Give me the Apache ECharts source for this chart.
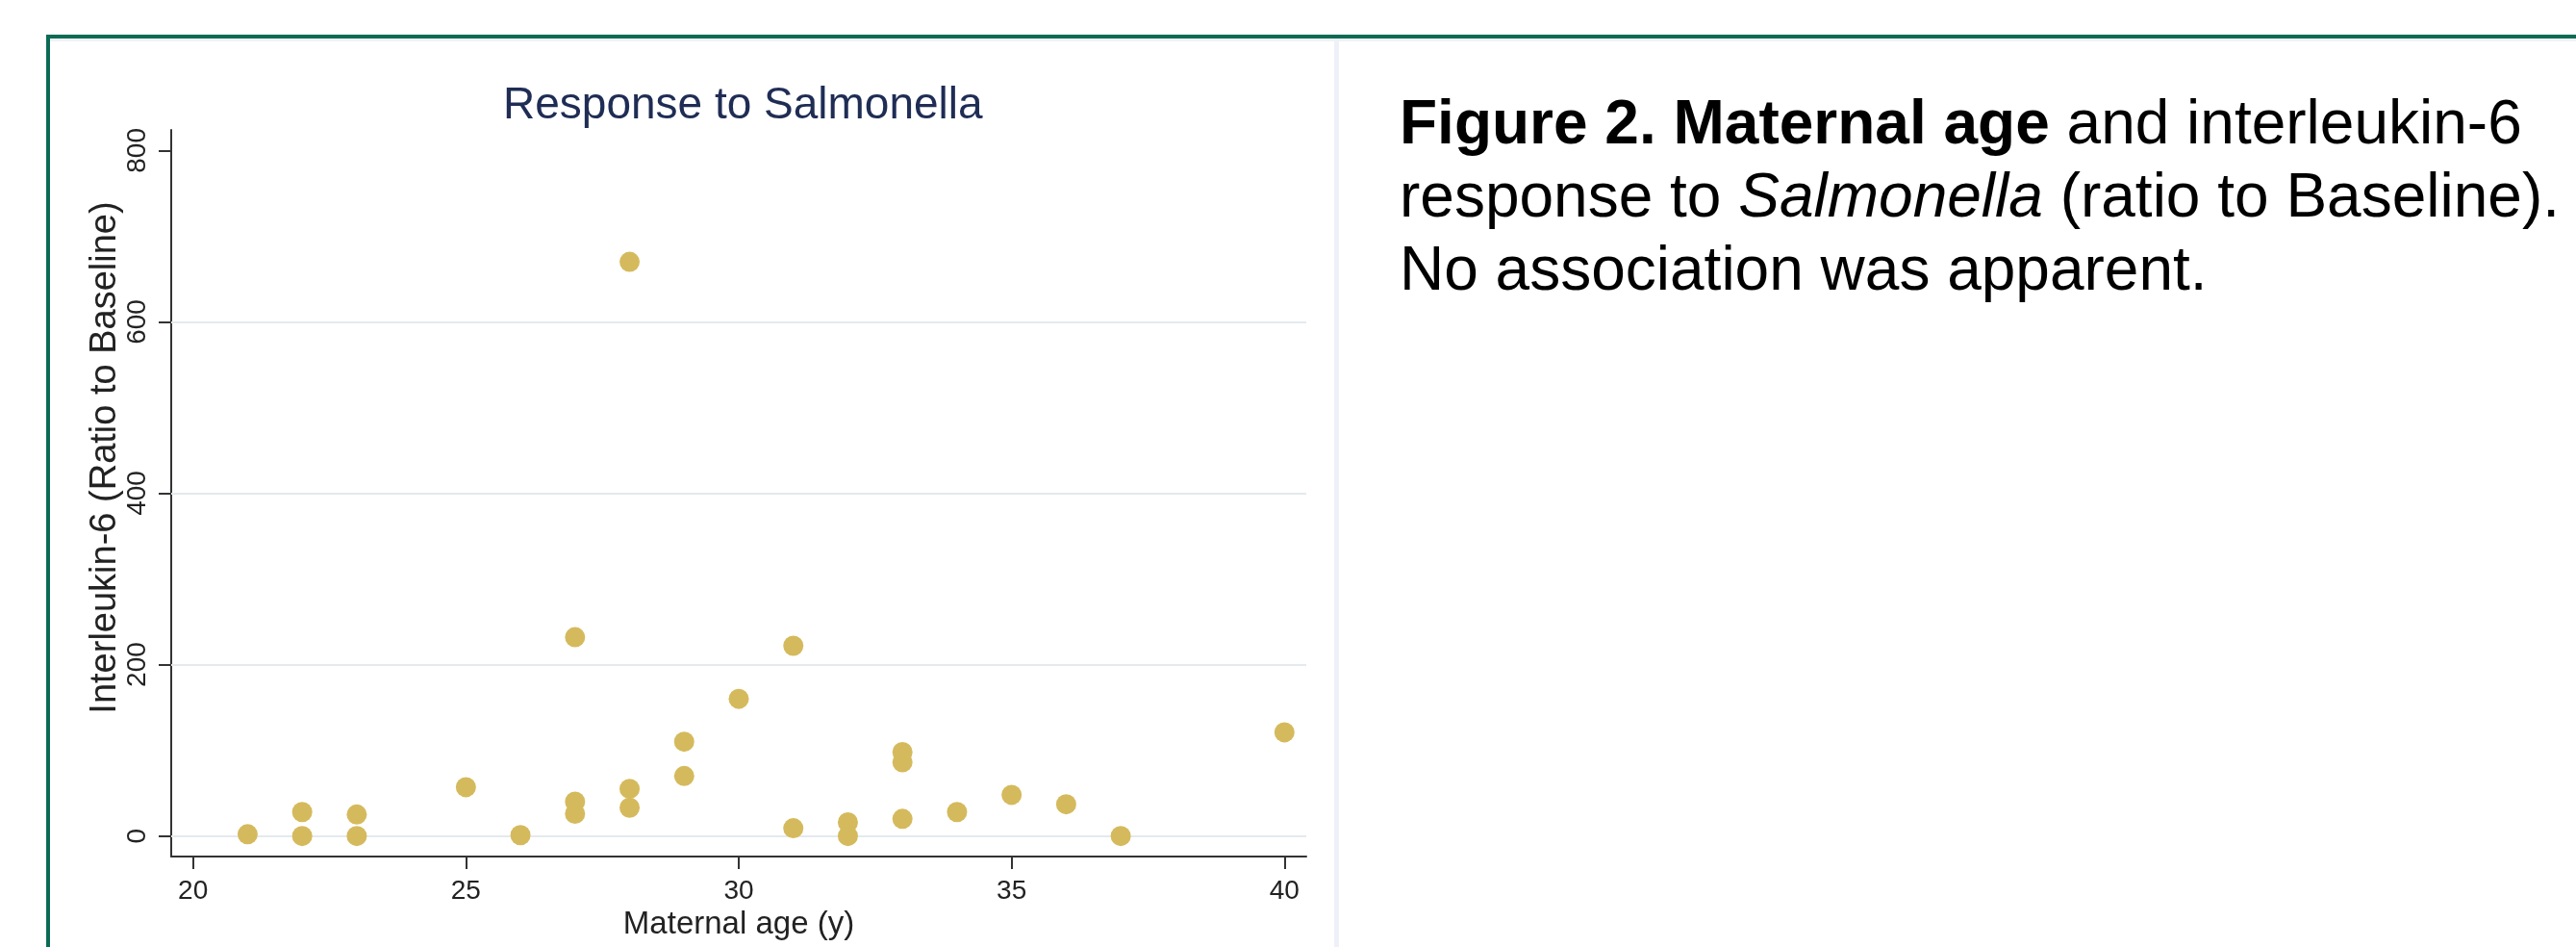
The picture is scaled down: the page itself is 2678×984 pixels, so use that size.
<!DOCTYPE html>
<html>
<head>
<meta charset="utf-8">
<title>Response to Salmonella</title>
<script src="https://cdn.jsdelivr.net/npm/echarts@6/dist/echarts.min.js"></script>
<style>
  html, body { margin: 0; padding: 0; background: #fff; width: 2678px; height: 984px; overflow: hidden; }
  #frame { position: absolute; left: 48px; top: 36px; right: -20px; bottom: -20px;
           border-top: 4px solid #0b6b54; border-left: 4px solid #0b6b54; }
  #shade { position: absolute; left: 52px; top: 40px; right: 0; height: 3px; background: #f1f2f4; }
  #divider { position: absolute; left: 1387px; top: 40px; width: 5px; bottom: 0; background: #eff1f8; }
  #chart { position: absolute; left: 0; top: 0; width: 2678px; height: 984px; }
  #caption { position: absolute; left: 1455px; top: 89px; font-family: 'Liberation Sans', Arial, Helvetica, sans-serif;
             font-size: 64px; line-height: 76px; color: #000; white-space: nowrap; }
  #caption b { font-weight: bold; }
  #caption i { font-style: italic; }
</style>
</head>
<body>
<div id="frame"></div>
<div id="shade"></div>
<div id="divider"></div>
<div id="chart"></div>
<div id="caption"><b>Figure 2. Maternal age</b> and interleukin-6<br>response to <i>Salmonella</i> (ratio to Baseline).<br>No association was apparent.</div>
<script>
// Maternal age (years) and IL-6 response (ratio to baseline), one entry per subject
const maternalAge = [21, 22, 22, 23, 23, 25, 26, 27, 27, 27, 28, 28, 28, 29, 29,
                     30, 31, 31, 32, 32, 33, 33, 33, 34, 35, 36, 37, 40];
const il6Ratio    = [2, 28, 0, 25, 0, 57, 1, 232, 40, 26, 670, 55, 33, 110, 70,
                     160, 222, 9, 16, 0, 98, 86, 20, 28, 48, 37, 0, 121];

// Axis ticks and horizontal reference lines
const xTicks = [20, 25, 30, 35, 40];
const yTicks = [0, 200, 400, 600, 800];
const yGridLines = [0, 200, 400, 600];

const FONT = "'Liberation Sans', Arial, Helvetica, sans-serif";
const AXIS_COLOR = '#333';

const chart = echarts.init(document.getElementById('chart'), null, { renderer: 'canvas' });

chart.setOption({
  animation: false,
  title: {
    text: 'Response to Salmonella',
    left: 518,
    top: 82,
    textStyle: { fontFamily: FONT, fontSize: 46, fontWeight: 'normal', color: '#1f2d55' }
  },
  grid: { left: 178, top: 135, width: 1180, height: 755 },
  xAxis: {
    type: 'value',
    min: 19.6,
    max: 40.4,
    name: 'Maternal age (y)',
    nameLocation: 'middle',
    nameGap: 49,
    nameTextStyle: { fontFamily: FONT, fontSize: 33, color: '#222' },
    axisLine: { show: true, onZero: false, lineStyle: { color: AXIS_COLOR, width: 2 } },
    axisTick: { show: true, length: 13, customValues: xTicks, lineStyle: { color: AXIS_COLOR, width: 2 } },
    axisLabel: { customValues: xTicks, margin: 22, fontFamily: FONT, fontSize: 28, color: '#222' },
    splitLine: { show: false }
  },
  yAxis: {
    type: 'value',
    min: -24,
    max: 824,
    name: 'Interleukin-6 (Ratio to Baseline)',
    nameLocation: 'middle',
    nameGap: 46,
    nameTextStyle: { fontFamily: FONT, fontSize: 38, color: '#222', padding: [0, 0, 0, 74] },
    axisLine: { show: true, onZero: false, lineStyle: { color: AXIS_COLOR, width: 2 } },
    axisTick: { show: true, length: 13, customValues: yTicks, lineStyle: { color: AXIS_COLOR, width: 2 } },
    axisLabel: { customValues: yTicks, rotate: 90, margin: 21, fontFamily: FONT, fontSize: 28, color: '#222' },
    splitLine: { show: false }
  },
  series: [
    {
      // horizontal reference lines behind the points
      type: 'line',
      data: [],
      silent: true,
      z: 1,
      markLine: {
        silent: true,
        z: 1,
        symbol: 'none',
        label: { show: false },
        lineStyle: { color: '#e4eaed', width: 2, type: 'solid' },
        data: yGridLines.map(v => ({ yAxis: v }))
      }
    },
    {
      type: 'scatter',
      z: 3,
      clip: false,
      symbol: 'circle',
      symbolSize: 21,
      itemStyle: { color: '#d5ba5d', opacity: 1 },
      data: maternalAge.map((a, i) => [a, il6Ratio[i]])
    }
  ]
});
</script>
</body>
</html>
